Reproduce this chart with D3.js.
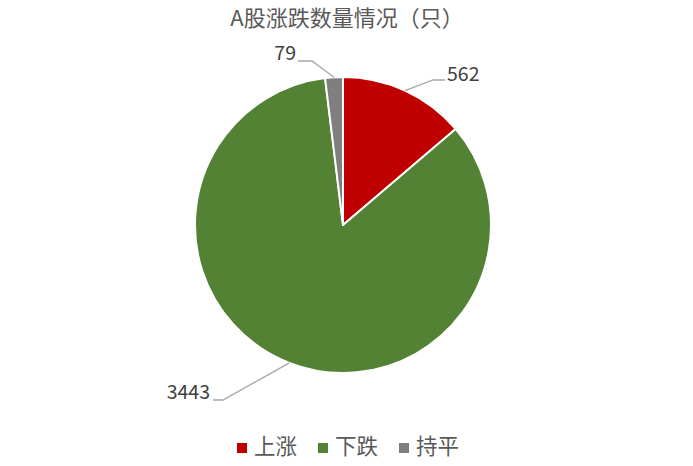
<!DOCTYPE html>
<html><head><meta charset="utf-8">
<script src="https://cdn.jsdelivr.net/npm/d3@7/dist/d3.min.js"></script>
<style>body{margin:0;background:#fff}svg{display:block}</style>
</head><body>
<svg id="c" width="693" height="466"></svg>
<script>
const title = "A股涨跌数量情况（只）";
const categories = ["上涨", "下跌", "持平"];
const values = [562, 3443, 79];
const colors = ["#C00000", "#548235", "#7F7F7F"];

const svg = d3.select("#c");
const cx = 343, cy = 225, R = 148;
const font = "'Noto Sans CJK SC', 'Microsoft YaHei', sans-serif";

svg.append("text").attr("x", 347).attr("y", 20).attr("text-anchor", "middle")
  .attr("dominant-baseline", "middle")
  .attr("font-family", font).attr("font-size", 22).attr("fill", "#595959").text(title);

const data = categories.map((c, i) => ({cat: c, v: values[i], col: colors[i]}));
const pie = d3.pie().value(d => d.v).sort(null);
const arcs = pie(data);
const arc = d3.arc().innerRadius(0).outerRadius(R);
const g = svg.append("g").attr("transform", `translate(${cx},${cy})`);
g.selectAll("path").data(arcs).join("path")
  .attr("d", arc).attr("fill", d => d.data.col)
  .attr("stroke", "#fff").attr("stroke-width", 2).attr("stroke-linejoin", "round");

// leader lines + labels
const outer = d3.arc().innerRadius(R).outerRadius(R);
const labelCfg = [
  {elbow: [433, 80], end: [445, 80], tx: 447, ty: 76, anchor: "start"},
  {elbow: [223, 400], end: [213, 400], tx: 210, ty: 394, anchor: "end"},
  {elbow: [312, 61], end: [298, 61], tx: 296, ty: 55, anchor: "end"}
];
arcs.forEach((a, i) => {
  const p = outer.centroid(a);
  const start = [cx + p[0], cy + p[1]];
  const c = labelCfg[i];
  svg.append("polyline")
    .attr("points", [start, c.elbow, c.end].map(q => q.join(",")).join(" "))
    .attr("fill", "none").attr("stroke", "#A6A6A6").attr("stroke-width", 1.3);
  svg.append("text").attr("x", c.tx).attr("y", c.ty).attr("text-anchor", c.anchor)
    .attr("dominant-baseline", "middle")
    .attr("font-family", font).attr("font-size", 19.5).attr("fill", "#404040")
    .text(a.data.v);
});

// legend
const legX = [237, 318, 399];
const leg = svg.append("g");
data.forEach((d, i) => {
  leg.append("rect").attr("x", legX[i]).attr("y", 443).attr("width", 10).attr("height", 10).attr("fill", d.col);
  leg.append("text").attr("x", legX[i] + 17).attr("y", 448).attr("dominant-baseline", "middle")
    .attr("font-family", font).attr("font-size", 21.5).attr("fill", "#595959").text(d.cat);
});
</script>
</body></html>
